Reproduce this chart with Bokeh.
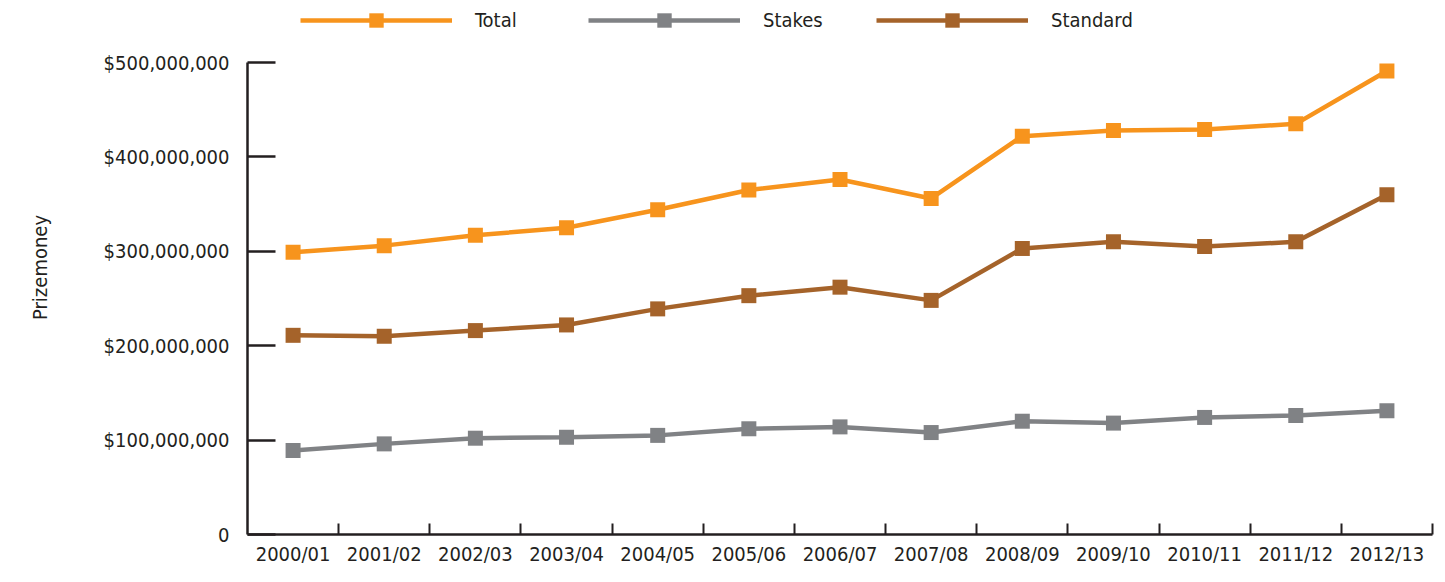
from bokeh.plotting import figure
from bokeh.models import FixedTicker, Range1d, Legend, LegendItem, ColumnDataSource
from bokeh.embed import file_html
from bokeh.resources import INLINE

seasons = ["2000/01", "2001/02", "2002/03", "2003/04", "2004/05", "2005/06", "2006/07",
           "2007/08", "2008/09", "2009/10", "2010/11", "2011/12", "2012/13"]
total = [299e6, 306e6, 317e6, 325e6, 344e6, 365e6, 376e6, 356e6, 422e6, 428e6, 429e6, 435e6, 491e6]
stakes = [89e6, 96e6, 102e6, 103e6, 105e6, 112e6, 114e6, 108e6, 120e6, 118e6, 124e6, 126e6, 131e6]
standard = [211e6, 210e6, 216e6, 222e6, 239e6, 253e6, 262e6, 248e6, 303e6, 310e6, 305e6, 310e6, 360e6]
series_names = ["Total", "Stakes", "Standard"]
colors = ["#F7941D", "#808285", "#A5632A"]
y_ticks = [0, 100e6, 200e6, 300e6, 400e6, 500e6]
y_tick_labels = ["0", "$100,000,000", "$200,000,000", "$300,000,000", "$400,000,000", "$500,000,000"]

FONT = "DejaVu Sans Condensed"
TXT = "#231F20"
FS = "20px"

xs = [i + 0.5 for i in range(len(seasons))]
ymax = 500e6 * 534 / 472

p = figure(width=1437, height=574, output_backend="svg", toolbar_location=None,
           x_range=Range1d(0, len(seasons)), y_range=Range1d(0, ymax),
           min_border_left=247, min_border_right=5, min_border_top=0, min_border_bottom=40)
p.outline_line_color = None
p.xgrid.visible = False
p.ygrid.visible = False
p.background_fill_color = "white"

items = []
for name, vals, c in zip(series_names, [total, stakes, standard], colors):
    src = ColumnDataSource(dict(x=xs, y=vals))
    r1 = p.line("x", "y", source=src, line_color=c, line_width=4.5)
    r2 = p.scatter("x", "y", source=src, marker="square", size=15, fill_color=c, line_color=None)
    items.append(LegendItem(label=name, renderers=[r1, r2]))

legend = Legend(items=items, orientation="horizontal", location=(53, 496),
                glyph_width=152, glyph_height=36, label_standoff=23, label_width=100,
                spacing=13, padding=0, margin=0, border_line_color=None,
                background_fill_alpha=0,
                label_text_font=FONT, label_text_font_size=FS, label_text_color=TXT)
p.add_layout(legend)

# x axis
xa = p.xaxis[0]
xa.ticker = FixedTicker(ticks=xs, minor_ticks=list(range(1, len(seasons) + 1)))
xa.major_label_overrides = {x: s for x, s in zip(xs, seasons)}
xa.major_tick_in = 0
xa.major_tick_out = 0
xa.minor_tick_in = 11
xa.minor_tick_out = 0
xa.minor_tick_line_width = 2
xa.minor_tick_line_color = TXT
xa.axis_line_width = 2.5
xa.axis_line_color = TXT
xa.major_label_text_font = FONT
xa.major_label_text_font_size = FS
xa.major_label_text_color = TXT
xa.major_label_standoff = 7

# y axis
ya = p.yaxis[0]
ya.bounds = (0, 500e6)
ya.ticker = FixedTicker(ticks=y_ticks, minor_ticks=[])
ya.major_label_overrides = {t: l for t, l in zip(y_ticks, y_tick_labels)}
ya.major_tick_in = 28
ya.major_tick_out = 0
ya.major_tick_line_width = 2.5
ya.major_tick_line_color = TXT
ya.minor_tick_in = 0
ya.minor_tick_out = 0
ya.axis_line_width = 2.5
ya.axis_line_color = TXT
ya.major_label_text_font = FONT
ya.major_label_text_font_size = FS
ya.major_label_text_color = TXT
ya.major_label_standoff = 18
ya.axis_label = "Prizemoney"
ya.axis_label_text_font = FONT
ya.axis_label_text_font_size = FS
ya.axis_label_text_font_style = "normal"
ya.axis_label_text_color = TXT
ya.axis_label_standoff = 49

open("out.html", "w").write(file_html(p, INLINE))
